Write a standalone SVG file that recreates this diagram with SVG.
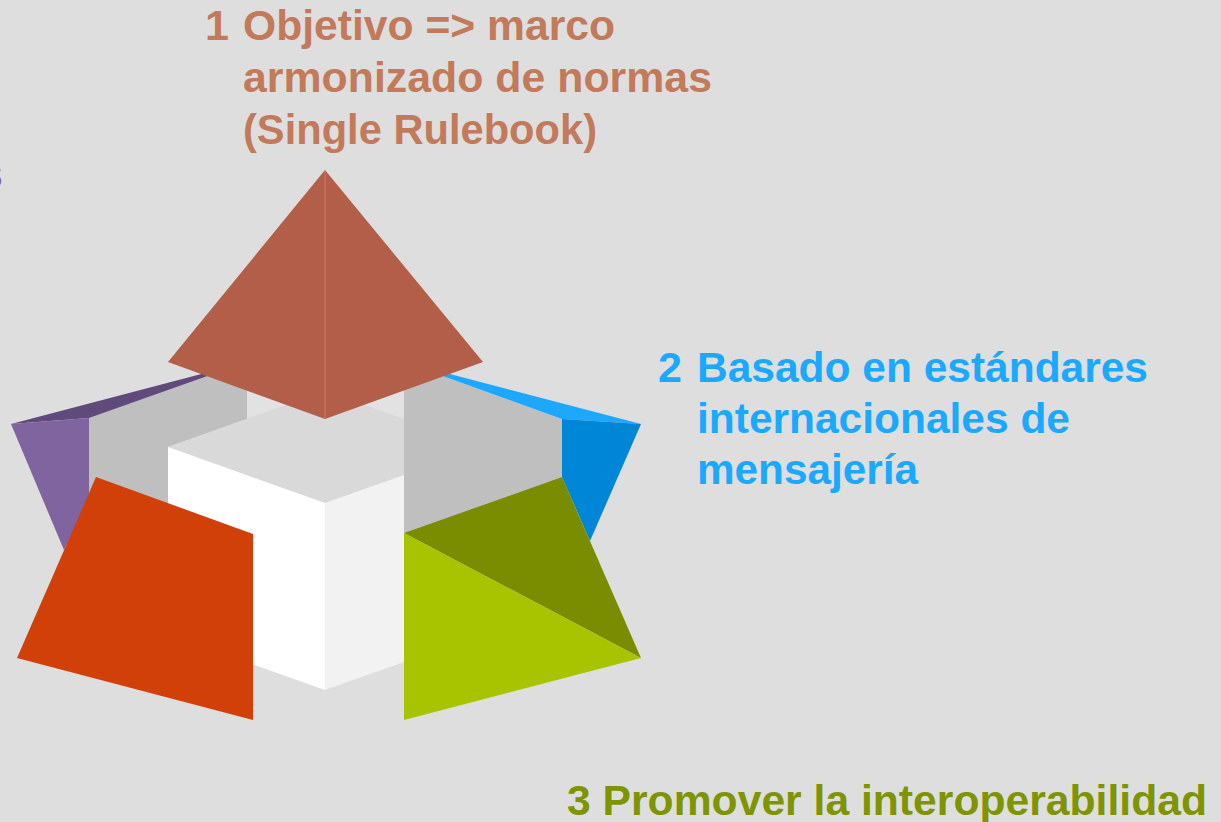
<svg xmlns="http://www.w3.org/2000/svg" width="1221" height="822" viewBox="0 0 1221 822">
<style>
.t{font-family:"Liberation Sans",Arial,Helvetica,sans-serif;font-weight:bold;font-size:43px}
.t1{fill:#C27A5A}
.t2{fill:#1AA9FF}
.t3{fill:#7E9400}
.tp{fill:#8064A0}
</style>
<rect x="0" y="0" width="1221" height="822" fill="#DEDEDE"/>
<g id="back">
<polygon points="247,362 325,334 404,362 404,419 325,391 247,419" fill="#E2E2E2"/>
<polygon points="89,418 247,362 247,419 168,447 168,530 89,530" fill="#BFBFBF"/>
<polygon points="404,362 562,419 562,477 404,533" fill="#BFBFBF"/>
</g>
<g id="purple">
<polygon points="11,424 247,362 89,418" fill="#604A7B"/>
<polygon points="11,424 89,418 89,500 64,550" fill="#8064A0"/>
</g>
<g id="blue">
<polygon points="641,424 404,362 562,419" fill="#1CA8FF"/>
<polygon points="562,419 641,424 590,541 562,477" fill="#0086D6"/>
</g>
<g id="cube">
<polygon points="168,447 325,391 404,419 404,475 325,503" fill="#D9D9D9"/>
<polygon points="168,447 325,503 325,690 168,634" fill="#FFFFFF"/>
<polygon points="325,503 404,475 404,662 325,690" fill="#F2F2F2"/>
</g>
<g id="orange">
<polygon points="96,477 253,534 253,720 17,658" fill="#D2400A"/>
</g>
<g id="green">
<polygon points="562,477 404,533 641,658" fill="#7A8C00"/>
<polygon points="404,533 641,658 404,720" fill="#A8C400"/>
</g>
<g id="pyramid">
<polygon points="325,170 168,362 325,419" fill="#B35E48"/>
<polygon points="325,170 483,362 325,419" fill="#B35E48"/>
<line x1="325" y1="171" x2="325" y2="418" stroke="#CC7D68" stroke-width="1"/>
</g>
<g id="labels">
<text class="t tp" x="3" y="188" text-anchor="end">s</text>
<g id="label1" class="t t1">
<text x="205" y="40">1</text>
<text x="243" y="40" textLength="372" lengthAdjust="spacingAndGlyphs">Objetivo =&gt; marco</text>
<text x="243" y="92" textLength="469" lengthAdjust="spacingAndGlyphs">armonizado de normas</text>
<text x="243" y="144" textLength="354" lengthAdjust="spacingAndGlyphs">(Single Rulebook)</text>
</g>
<g id="label2" class="t t2">
<text x="658" y="382">2</text>
<text x="697" y="382" textLength="451" lengthAdjust="spacingAndGlyphs">Basado en estándares</text>
<text x="697" y="433" textLength="373" lengthAdjust="spacingAndGlyphs">internacionales de</text>
<text x="697" y="484" textLength="221" lengthAdjust="spacingAndGlyphs">mensajería</text>
</g>
<text id="label3" class="t t3" x="567" y="815" textLength="640" lengthAdjust="spacingAndGlyphs">3 Promover la interoperabilidad</text>
</g>
</svg>
